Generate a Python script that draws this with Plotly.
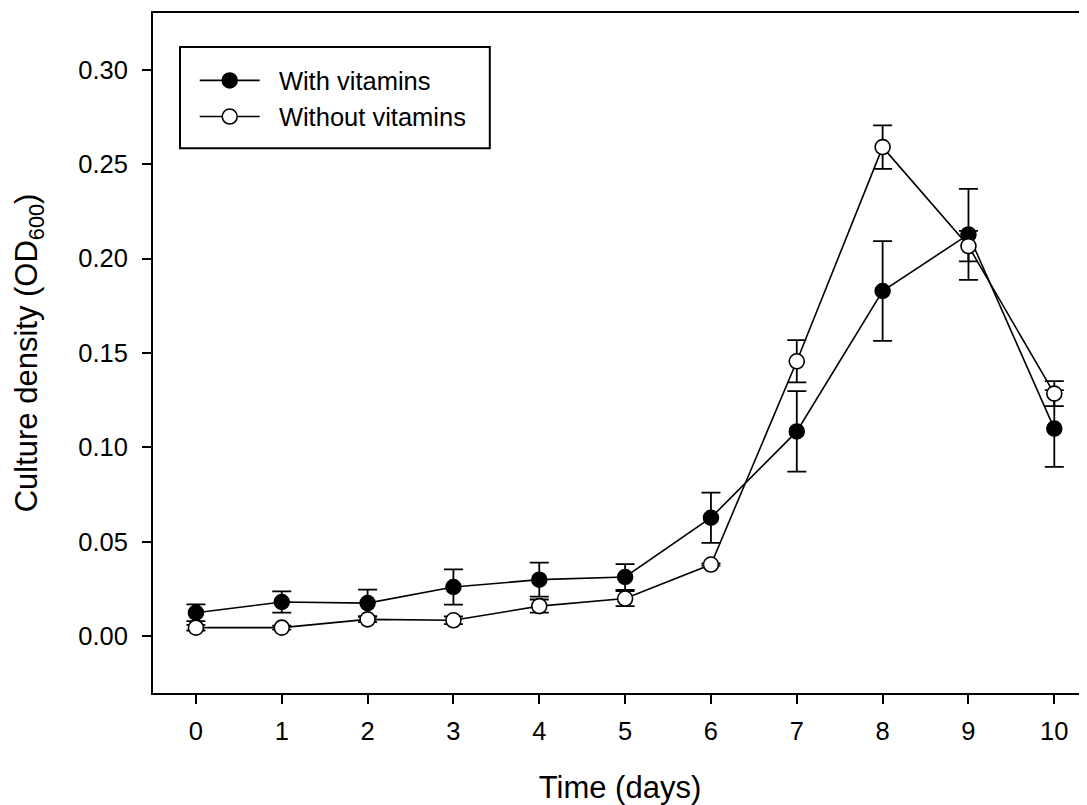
import plotly.graph_objects as go

days = [0, 1, 2, 3, 4, 5, 6, 7, 8, 9, 10]
with_vit = [0.0125, 0.0182, 0.0176, 0.0261, 0.0300, 0.0314, 0.0628, 0.1085, 0.1828, 0.2128, 0.1100]
with_err = [0.0044, 0.0056, 0.0071, 0.0093, 0.0090, 0.0068, 0.0133, 0.0213, 0.0264, 0.0241, 0.0203]
without_vit = [0.0046, 0.0046, 0.0090, 0.0085, 0.0160, 0.0200, 0.0380, 0.1456, 0.2590, 0.2066, 0.1285]
without_err = [0.0015, 0.0010, 0.0015, 0.0020, 0.0035, 0.0040, 0.0006, 0.0112, 0.0115, 0.0081, 0.0066]
y_ticks = [0.00, 0.05, 0.10, 0.15, 0.20, 0.25, 0.30]
y_ticklabels = ["0.00", "0.05", "0.10", "0.15", "0.20", "0.25", "0.30"]

FONT = "Liberation Sans, Arial, sans-serif"
NB = "\u00a0\u00a0"

fig = go.Figure()
fig.add_trace(go.Scatter(
    x=days, y=with_vit, mode="lines+markers", name=NB + "With vitamins",
    line=dict(color="black", width=1.6),
    marker=dict(symbol="circle", size=15, color="black", line=dict(color="black", width=1.5)),
    error_y=dict(type="data", array=with_err, visible=True, color="black", thickness=1.8, width=9.5),
))
fig.add_trace(go.Scatter(
    x=days, y=without_vit, mode="lines+markers", name=NB + "Without vitamins",
    line=dict(color="black", width=1.6),
    marker=dict(symbol="circle", size=15, color="white", line=dict(color="black", width=1.6)),
    error_y=dict(type="data", array=without_err, visible=True, color="black", thickness=1.8, width=9.5),
))

# plot area in figure pixels (page has an 8px body margin)
L, T, B, W, H = 145.3, 4.7, 112.3, 1079, 797
PW = W - L
PH = H - T - B

def px_x(p):
    return (p - L) / PW

def px_y(p):
    return (H - B - p) / PH

fig.add_shape(type="rect", xref="paper", yref="paper",
              x0=px_x(172.3), x1=px_x(482), y0=px_y(38.7), y1=px_y(140),
              line=dict(color="black", width=2), fillcolor="rgba(0,0,0,0)", layer="above")

fig.update_layout(
    width=W, height=H,
    margin=dict(l=L, r=0, t=T, b=B, pad=0),
    paper_bgcolor="white", plot_bgcolor="white",
    font=dict(family=FONT, size=25.5, color="black"),
    showlegend=True,
    legend=dict(
        x=px_x(187), y=px_y(49), xanchor="left", yanchor="top",
        borderwidth=0, bgcolor="rgba(0,0,0,0)",
        font=dict(family=FONT, size=25.5, color="black"),
        itemwidth=60, tracegroupgap=0,
    ),
    xaxis=dict(
        range=[-0.5, 10.381], tickmode="array", tickvals=days,
        ticktext=[str(d) for d in days],
        showline=True, linecolor="black", linewidth=2, mirror=True,
        ticks="outside", ticklen=9, tickwidth=1.8, tickcolor="black",
        showgrid=False, zeroline=False,
        ticklabelstandoff=5,
        title=dict(text="Time (days)", font=dict(family=FONT, size=31), standoff=34),
    ),
    yaxis=dict(
        range=[-0.03, 0.33], tickmode="array", tickvals=y_ticks, ticktext=y_ticklabels,
        showline=True, linecolor="black", linewidth=2, mirror=False,
        ticks="outside", ticklen=9, tickwidth=1.8, tickcolor="black",
        showgrid=False, zeroline=False,
        ticklabelstandoff=9,
        title=dict(text="Culture density (OD<sub>600</sub>)", font=dict(family=FONT, size=31), standoff=31),
    ),
)

fig.write_html("out.html")
